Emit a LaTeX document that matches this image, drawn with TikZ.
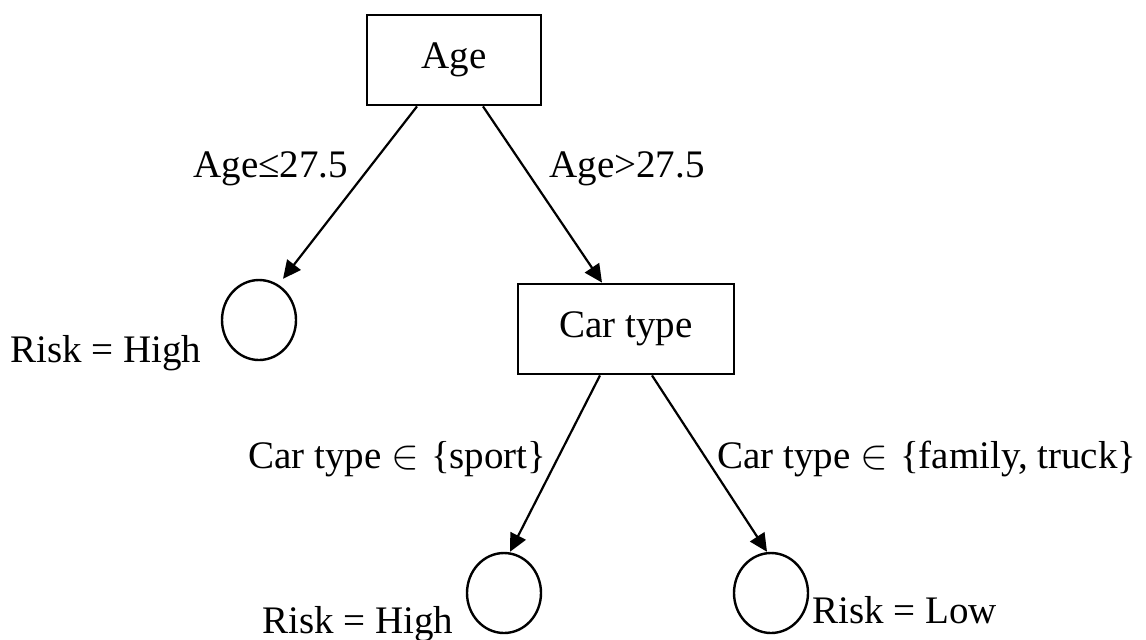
\documentclass[tikz,border=0pt]{standalone}
\usepackage{fontspec}
\setmainfont{Liberation Serif}
\usetikzlibrary{arrows.meta,shapes.geometric}

\begin{document}
\begin{tikzpicture}[x=0.5pt, y=-0.5pt,
  every node/.style={font=\fontsize{19.5}{23}\selectfont},
  test/.style={draw, line width=1.4pt, minimum height=45pt, inner sep=0pt},
  leaf/.style={draw, ellipse, line width=1.2pt, minimum width=37pt, minimum height=40pt, inner sep=0pt},
  lbl/.style={anchor=base west, inner sep=0pt},
  branch/.style={-{Triangle[length=9pt,width=8.5pt]}, line width=1.1pt}]
\useasboundingbox (0,0) rectangle (1146,639);
% tests
\node[test, minimum width=87pt] (age) at (454,60) {Age};
\node[test, minimum width=108pt] (car) at (626,329) {Car type};
% leaves
\node[leaf] (high1) at (259,320) {};
\node[leaf] (high2) at (504,593) {};
\node[leaf] (low) at (771,593) {};
\node[lbl] (risk1) at (10,362) {Risk = High};
\node[lbl] (risk2) at (262,633) {Risk = High};
\node[lbl] (risk3) at (812,623) {Risk = Low};
% branch labels
\node[lbl] (agelo) at (193,177) {Age≤27.5};
\node[lbl] (agehi) at (549,177) {Age>27.5};
\node[lbl] (sport) at (248,468) {Car type $\in$\hspace{6pt}\{sport\}};
\node[lbl] (family) at (717,468) {Car type $\in$\hspace{6pt}\{family, truck\}};
% branches
\draw[branch] ([xshift=-18.5pt]age.south) -- ([xshift=12pt]high1.north);
\draw[branch] ([xshift=14.5pt]age.south) -- ([xshift=-12pt]car.north);
\draw[branch] ([xshift=-13pt]car.south) -- ([xshift=3pt]high2.north);
\draw[branch] ([xshift=13pt]car.south) -- ([xshift=-2pt]low.north);
\end{tikzpicture}
\end{document}
